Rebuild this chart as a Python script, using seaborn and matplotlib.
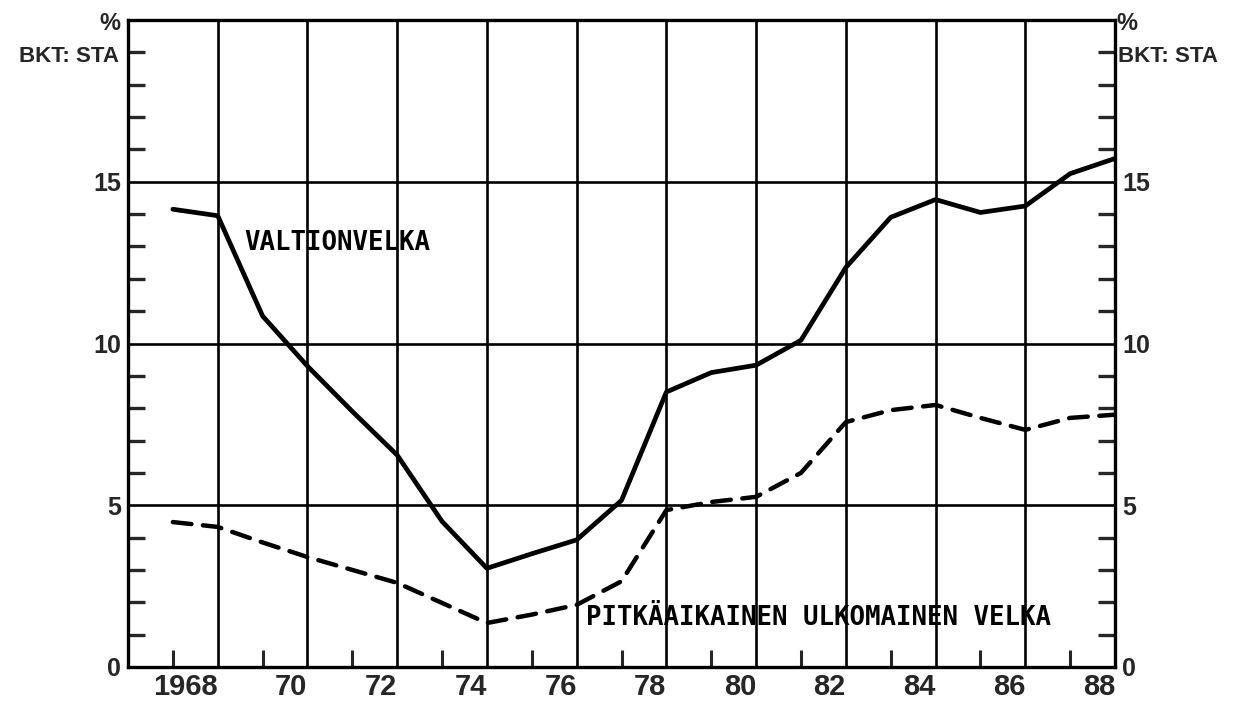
import numpy as np
import pandas as pd
import seaborn as sns
import matplotlib.pyplot as plt
from matplotlib import font_manager as fm
from matplotlib.ticker import FixedLocator

# Valtionvelka ja pitkäaikainen ulkomainen velka, % BKT:sta, 1967-1988

years = list(range(1967, 1989))
valtionvelka = [14.15, 13.95, 10.85, 9.3, 7.9, 6.55, 4.5, 3.05, 3.5, 3.93, 5.15,
                8.5, 9.1, 9.33, 10.1, 12.35, 13.9, 14.45, 14.05, 14.25, 15.25, 15.72]
ulkomainen_velka = [4.48, 4.33, 3.85, 3.4, 3.0, 2.6, 1.98, 1.36, 1.62, 1.92, 2.65,
                    4.85, 5.1, 5.26, 6.0, 7.57, 7.94, 8.1, 7.7, 7.33, 7.7, 7.8]

x_ticks = list(range(1968, 1989, 2))
x_labels = ['1968', '70', '72', '74', '76', '78', '80', '82', '84', '86', '88']
y_ticks = [0, 5, 10, 15]

df = pd.DataFrame({'vuosi': years, 'valtio': valtionvelka, 'ulko': ulkomainen_velka})

sns.set_style('white')
names = {f.name for f in fm.fontManager.ttflist}
num_font = 'Liberation Sans Narrow' if 'Liberation Sans Narrow' in names else 'Liberation Sans'
plt.rcParams['font.family'] = ['DejaVu Sans']

fig = plt.figure(figsize=(12.46, 7.03), dpi=100)
ax = fig.add_axes([128 / 1246, 36 / 703, 987 / 1246, 647 / 703])

sns.lineplot(data=df, x='vuosi', y='valtio', ax=ax, color='black', lw=3.4,
             solid_joinstyle='round', solid_capstyle='round')
sns.lineplot(data=df, x='vuosi', y='ulko', ax=ax, color='black', lw=3.2,
             dashes=False)
ax.lines[-1].set_dashes((4.2, 2.6))
ax.lines[-1].set_dash_capstyle('round')

ax.set_xlim(1966, 1988)
ax.set_ylim(0, 20)
ax.set_xlabel('')
ax.set_ylabel('')

# gridlines at even years and every 5 %
for yr in range(1968, 1988, 2):
    ax.axvline(yr, color='black', lw=1.9, zorder=1)
for v in [5, 10, 15]:
    ax.axhline(v, color='black', lw=1.9, zorder=1)

for s in ax.spines.values():
    s.set_linewidth(2.4)
    s.set_color('black')

ax.set_xticks(x_ticks)
ax.set_xticklabels(x_labels, fontfamily=num_font, fontweight='bold', fontsize=21, ha='right')
ax.xaxis.set_minor_locator(FixedLocator(list(range(1967, 1988, 2))))
ax.set_yticks(y_ticks)
ax.yaxis.set_minor_locator(FixedLocator([v for v in range(1, 20) if v % 5 != 0]))

ax.tick_params(axis='x', which='major', length=0, pad=4)
ax.tick_params(axis='x', which='minor', direction='in', length=12, width=2.2, bottom=True, top=False)
ax.tick_params(axis='y', which='major', length=0, pad=5, left=True, right=True,
               labelleft=True, labelright=True)
ax.tick_params(axis='y', which='minor', direction='in', length=12, width=2.4,
               left=True, right=True)
for lab in ax.get_yticklabels():
    lab.set_fontfamily(num_font)
    lab.set_fontweight('bold')
    lab.set_fontsize(18)

ax.text(1968.6, 13.1, 'VALTIONVELKA', fontfamily='DejaVu Sans Mono', fontweight='bold',
        fontsize=18.5, va='center', ha='left', color='black')
ax.text(1976.2, 1.5, 'PITKÄAIKAINEN ULKOMAINEN VELKA', fontfamily='DejaVu Sans Mono',
        fontweight='bold', fontsize=18.5, va='center', ha='left', color='black')

# yksikkö akselien yläpuolelle
fig.text(110 / 1246, 1 - 24 / 703, '%', fontfamily='Liberation Sans', fontweight='bold',
         fontsize=17, ha='center', va='center')
fig.text(1127 / 1246, 1 - 23 / 703, '%', fontfamily='Liberation Sans', fontweight='bold',
         fontsize=17, ha='center', va='center')
fig.text(119 / 1246, 1 - 57 / 703, 'BKT: STA', fontfamily='Liberation Sans', fontweight='bold',
         fontsize=16, ha='right', va='center')
fig.text(1118 / 1246, 1 - 56 / 703, 'BKT: STA', fontfamily='Liberation Sans', fontweight='bold',
         fontsize=16, ha='left', va='center')

plt.savefig('out.png', dpi=100)
